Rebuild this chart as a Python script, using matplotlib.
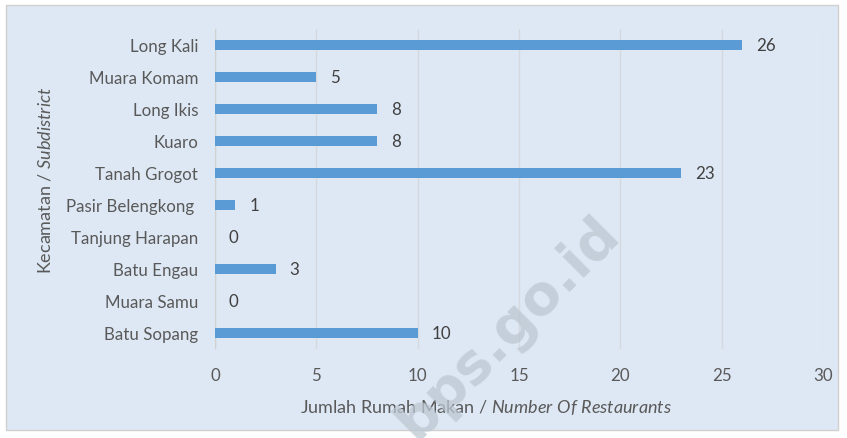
import matplotlib
matplotlib.use("Agg")
import matplotlib.pyplot as plt
from matplotlib.patches import Rectangle

plt.rcParams["mathtext.fontset"] = "custom"
plt.rcParams["mathtext.rm"] = "Lato"
plt.rcParams["mathtext.it"] = "Lato:italic"

categories = ["Long Kali", "Muara Komam", "Long Ikis", "Kuaro", "Tanah Grogot",
              "Pasir Belengkong ", "Tanjung Harapan", "Batu Engau", "Muara Samu", "Batu Sopang"]
values = [26, 5, 8, 8, 23, 1, 0, 3, 0, 10]
xticks = [0, 5, 10, 15, 20, 25, 30]

W, H = 847, 439
fig = plt.figure(figsize=(W / 100, H / 100), dpi=100)
fig.patch.set_facecolor("white")
bg = "#dee8f4"
rect = Rectangle((6 / W, 1 - 431 / H), 832 / W, 425 / H, transform=fig.transFigure,
                 facecolor=bg, edgecolor="#d0d0d0", linewidth=1, zorder=-10)
fig.add_artist(rect)

ax = fig.add_axes([215 / W, 1 - 350 / H, (823 - 215) / W, (350 - 30) / H])
ax.set_zorder(1)
ax.patch.set_alpha(0)
font = "Lato"
txt = "#595959"
fs = 12.2

ypos = list(range(len(categories)))
ax.barh(ypos, values, height=0.31, color="#5b9bd5", zorder=3)
for y, v in zip(ypos, values):
    ax.annotate(str(v), (v, y), xytext=(10, 0), textcoords="offset points", ha="left",
                va="center", fontsize=fs, color="#404040", family=font)

ax.set_xlim(0, 30)
ax.set_ylim(len(categories) - 0.5, -0.5)
ax.set_xticks(xticks)
ax.set_xticklabels([str(t) for t in xticks], fontsize=fs, color=txt, family=font)
ax.set_yticks(ypos)
ax.set_yticklabels(categories, fontsize=fs, color=txt, family=font)
ax.tick_params(axis="both", length=0)
ax.tick_params(axis="x", pad=13)
ax.tick_params(axis="y", pad=12)
ax.grid(axis="x", color="#d5d9de", linewidth=1, zorder=0)
for s in ax.spines.values():
    s.set_visible(False)
ax.axvline(0, color="#d0d0d0", linewidth=1, zorder=2)

fig.text(486 / W, 1 - 408 / H, "Jumlah Rumah Makan / $\\it{Number\\ Of\\ Restaurants}$",
         fontsize=13, color=txt, family=font, ha="center", va="center")
fig.text(45 / W, 1 - 180 / H, "Kecamatan / $\\it{Subdistrict}$", rotation=90,
         fontsize=13, color=txt, family=font, ha="center", va="center")

fig.text(508 / W, 1 - 328 / H, "bps.go.id", rotation=45, ha="center", va="center",
         fontsize=40, fontweight="bold", color="#bcc7d2", family="DejaVu Sans", alpha=0.75, zorder=5)

fig.savefig("out.png", dpi=100)
